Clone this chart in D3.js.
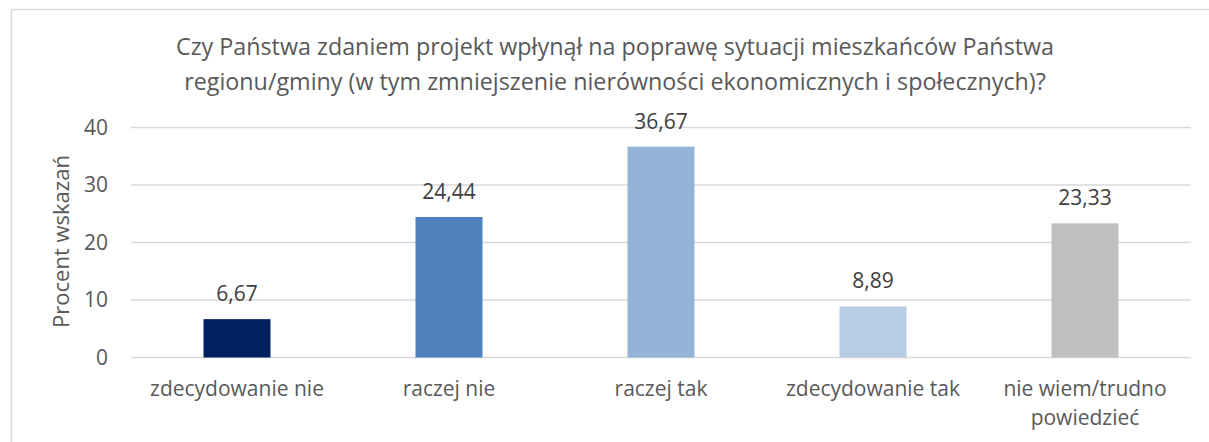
<!DOCTYPE html>
<html>
<head>
<meta charset="utf-8">
<script src="https://cdn.jsdelivr.net/npm/d3@7"></script>
<style>
  html, body { margin: 0; padding: 0; background: #fff; }
  svg { display: block; font-family: "Open Sans", "Noto Sans", sans-serif; }
</style>
</head>
<body>
<svg id="chart" width="1209" height="442"></svg>
<script>
const categories = ["zdecydowanie nie", "raczej nie", "raczej tak", "zdecydowanie tak", "nie wiem/trudno powiedzieć"];
const values = [6.67, 24.44, 36.67, 8.89, 23.33];
const barColors = ["#002060", "#4F81BD", "#95B3D7", "#B8CCE4", "#BFBFBF"];
const yTicks = [0, 10, 20, 30, 40];
const titleLines = [
  "Czy Państwa zdaniem projekt wpłynął na poprawę sytuacji mieszkańców Państwa",
  "regionu/gminy (w tym zmniejszenie nierówności ekonomicznych i społecznych)?"
];
const yAxisTitle = "Procent wskazań";

const svg = d3.select("#chart");
const textColor = "#595959";
const gridColor = "#d9d9d9";

// outer chart frame
svg.append("rect")
  .attr("x", 11.5).attr("y", 9.5)
  .attr("width", 1210).attr("height", 450)
  .attr("fill", "none").attr("stroke", gridColor).attr("stroke-width", 1.5);

const plot = { left: 131, right: 1191, top: 127.5, bottom: 357.5 };

const x = d3.scaleBand()
  .domain(categories)
  .range([plot.left, plot.right])
  .paddingInner(0.684)
  .paddingOuter(0.342);

const y = d3.scaleLinear()
  .domain([0, 40])
  .range([plot.bottom, plot.top]);

// title
svg.append("g").selectAll("text")
  .data(titleLines)
  .join("text")
  .attr("x", 615)
  .attr("y", (d, i) => 55 + i * 35)
  .attr("text-anchor", "middle")
  .attr("font-size", 23.3)
  .attr("fill", textColor)
  .text(d => d);

// gridlines
svg.append("g").selectAll("line")
  .data(yTicks)
  .join("line")
  .attr("x1", plot.left).attr("x2", plot.right)
  .attr("y1", d => y(d)).attr("y2", d => y(d))
  .attr("stroke", gridColor).attr("stroke-width", 1.5);

// y axis tick labels
const yAxis = d3.axisLeft(y).tickValues(yTicks).tickSize(0).tickPadding(23);
const yg = svg.append("g").attr("transform", `translate(${plot.left},0)`).call(yAxis);
yg.select(".domain").remove();
yg.selectAll("text")
  .attr("font-size", 21)
  .attr("font-family", "'Open Sans', sans-serif")
  .attr("fill", textColor);

// y axis title
svg.append("text")
  .attr("transform", `translate(69,${(plot.top + plot.bottom) / 2 - 1}) rotate(-90)`)
  .attr("text-anchor", "middle")
  .attr("font-size", 22)
  .attr("fill", textColor)
  .text(yAxisTitle);

// bars
svg.append("g").selectAll("rect")
  .data(values)
  .join("rect")
  .attr("x", (d, i) => x(categories[i]))
  .attr("width", x.bandwidth())
  .attr("y", d => y(d))
  .attr("height", d => y(0) - y(d))
  .attr("fill", (d, i) => barColors[i]);

// value labels
svg.append("g").selectAll("text")
  .data(values)
  .join("text")
  .attr("x", (d, i) => x(categories[i]) + x.bandwidth() / 2)
  .attr("y", d => y(d) - 18)
  .attr("text-anchor", "middle")
  .attr("font-size", 21)
  .attr("fill", "#404040")
  .text(d => d3.format(".2f")(d).replace(".", ","));

// category labels, wrapped where the band is too narrow
const catLines = c => c === "nie wiem/trudno powiedzieć" ? ["nie wiem/trudno", "powiedzieć"] : [c];
const cg = svg.append("g");
categories.forEach(c => {
  const cx = x(c) + x.bandwidth() / 2;
  cg.append("text")
    .attr("x", cx)
    .attr("y", 396)
    .attr("text-anchor", "middle")
    .attr("font-size", 21)
    .attr("fill", textColor)
    .selectAll("tspan")
    .data(catLines(c))
    .join("tspan")
    .attr("x", cx)
    .attr("dy", (d, i) => i === 0 ? 0 : 29)
    .text(d => d);
});
</script>
</body>
</html>
